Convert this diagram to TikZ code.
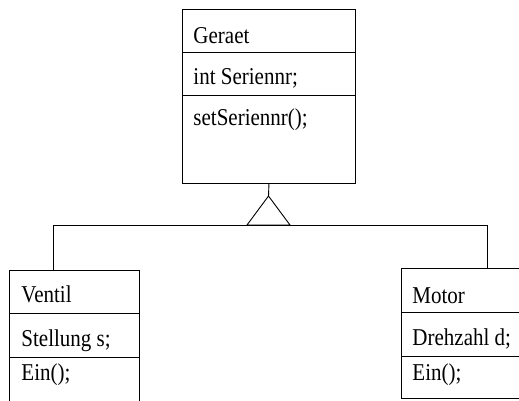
\documentclass[tikz,border=0pt]{standalone}
\usepackage{graphicx}
\usepackage{fontspec}
\setmainfont{Liberation Serif}
\newcommand{\umltext}[1]{\scalebox{1}[1.15]{#1}}
\begin{document}
\begin{tikzpicture}[x=1pt,y=-1pt,line width=0.9pt,
  cls/.style={draw, rectangle, anchor=north west, inner sep=0pt},
  lbl/.style={anchor=base west, inner sep=0pt, font=\fontsize{21}{24}\selectfont}]
\useasboundingbox (0,0) rectangle (519,400);
\clip (0,0) rectangle (519,400);

% superclass Geraet
\node[cls, minimum width=173pt, minimum height=174pt] (geraet) at (182,9) {};
\draw (182,52) -- (355,52);
\draw (182,95) -- (355,95);
\node[lbl] (gname) at (193,43) {\umltext{Geraet}};
\node[lbl] (gattr) at (193,84) {\umltext{int Seriennr;}};
\node[lbl] (gop)   at (193,125) {\umltext{setSeriennr();}};

% subclass Ventil
\node[cls, minimum width=130pt, minimum height=132pt] (ventil) at (9,270) {};
\draw (9,313) -- (139,313);
\draw (9,357) -- (139,357);
\node[lbl] (vname) at (21,302) {\umltext{Ventil}};
\node[lbl] (vattr) at (21,346) {\umltext{Stellung s;}};
\node[lbl] (vop)   at (21,380) {\umltext{Ein();}};

% subclass Motor
\node[cls, minimum width=130pt, minimum height=130pt] (motor) at (401,268) {};
\draw (401,312) -- (531,312);
\draw (401,356) -- (531,356);
\node[lbl] (mname) at (412,303) {\umltext{Motor}};
\node[lbl] (mattr) at (412,345) {\umltext{Drehzahl d;}};
\node[lbl] (mop)   at (412,380) {\umltext{Ein();}};

% generalisation: open triangle and branching line
\coordinate (apex) at (268.5,196);
\coordinate (bl) at (247,225);
\coordinate (br) at (290,225);
\coordinate (vtop) at (53,270);
\coordinate (mtop) at (487,268);
\draw (geraet.south) -- (apex);
\draw (apex) -- (bl) -- (br) -- cycle;
\draw (vtop) -- (53,225) -- (487,225) -- (mtop);
\end{tikzpicture}
\end{document}
